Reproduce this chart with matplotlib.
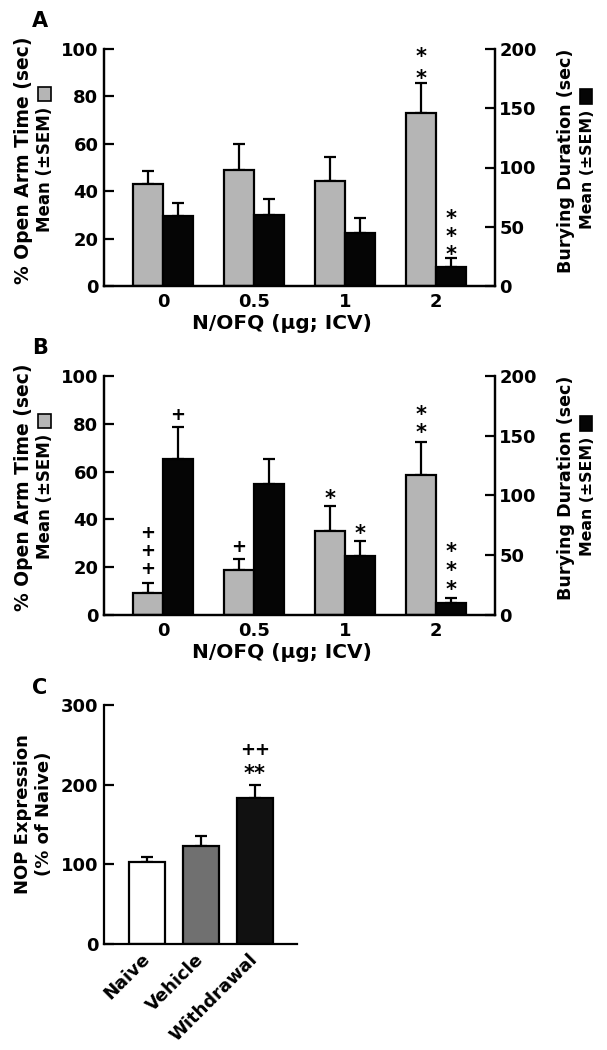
import matplotlib
matplotlib.use("Agg")
import matplotlib.pyplot as plt
from matplotlib.patches import Rectangle
import numpy as np

# ---------------- data ----------------
doses = ["0", "0.5", "1", "2"]

# Panel A
a_open_mean = [43, 49, 44.5, 73]
a_open_sem = [5.5, 11, 10, 12.5]
a_bury_mean = [59, 60, 45, 16]
a_bury_sem = [11, 13, 12, 7.5]
a_open_marks = ["", "", "", "**"]
a_bury_marks = ["", "", "", "***"]

# Panel B
b_open_mean = [9.2, 18.8, 35.2, 58.6]
b_open_sem = [4.2, 4.6, 10.4, 13.8]
b_bury_mean = [130.5, 109.6, 49.4, 10]
b_bury_sem = [26.5, 21, 12.6, 4.2]
b_open_marks = ["+++", "+", "*", "**"]
b_bury_marks = ["+", "", "*", "***"]

# Panel C
groups_c = ["Naive", "Vehicle", "Withdrawal"]
c_mean = [103, 123, 183]
c_sem = [6, 13, 17]

plt.rcParams['font.family'] = ['DejaVu Sans']
plt.rcParams['font.weight'] = 'bold'

W, H = 607, 1050
fig = plt.figure(figsize=(W / 100, H / 100), dpi=100)

def fx(px):
    return px / W

def fy(py):
    return 1 - py / H

GRAY = "#b5b5b5"
BLACK = "#050505"
LW = 1.6
TICKFS = 13
PT = 100 / 72.0  # px per point

def style_axis(ax):
    ax.tick_params(axis='y', direction='in', length=7, width=LW, labelsize=TICKFS, pad=4)
    ax.tick_params(axis='x', length=0, labelsize=TICKFS, pad=5)
    for lab in ax.get_yticklabels() + ax.get_xticklabels():
        lab.set_fontweight('bold')

def stack_marks(ax, x, ytop, marks, first_off_px, step_px):
    # one multi-line text; glyph centre of the lowest line sits first_off_px above ytop
    fs = 15 if marks[0] == '*' else 13
    em = fs * PT
    centre = 0.83 * em if marks[0] == '*' else 0.57 * em
    ls = step_px / (0.76 * em)
    ax.annotate("\n".join(marks), xy=(x, ytop), xytext=(0, (first_off_px - centre) / PT),
                textcoords='offset points', ha='center', va='bottom', fontsize=fs,
                fontweight='bold', linespacing=ls)

def panel_ab(top_px, bottom_px, open_mean, open_sem, bury_mean, bury_sem,
             open_marks, bury_marks, open_offs, bury_offs, letter):
    left, right = 104, 495
    ax = fig.add_axes([fx(left), fy(bottom_px), fx(right - left), (bottom_px - top_px) / H])
    ax2 = ax.twinx()
    x = np.arange(len(doses))
    w = 0.33
    ax.bar(x - w / 2, open_mean, w, color=GRAY, edgecolor='black', linewidth=LW, zorder=2)
    ax.errorbar(x - w / 2, open_mean, yerr=[np.zeros(len(x)), open_sem], fmt='none',
                ecolor='black', elinewidth=LW, capsize=4, capthick=LW, zorder=1)
    ax2.bar(x + w / 2, bury_mean, w, color=BLACK, edgecolor='black', linewidth=LW, zorder=2)
    ax2.errorbar(x + w / 2, bury_mean, yerr=[np.zeros(len(x)), bury_sem], fmt='none',
                 ecolor='black', elinewidth=LW, capsize=4, capthick=LW, zorder=1)
    ax.set_xlim(-0.65, 3.65)
    ax.set_ylim(0, 100)
    ax2.set_ylim(0, 200)
    ax.set_yticks([0, 20, 40, 60, 80, 100])
    ax2.set_yticks([0, 50, 100, 150, 200])
    ax.set_xticks(x)
    ax.set_xticklabels(doses)
    for a in (ax, ax2):
        a.spines['top'].set_visible(False)
        for s in a.spines.values():
            s.set_linewidth(LW)
    style_axis(ax)
    ax2.tick_params(axis='y', direction='in', length=7, width=LW, labelsize=TICKFS, pad=3)
    for lab in ax2.get_yticklabels():
        lab.set_fontweight('bold')
    # x-axis title (slightly left of centre, as in the reference)
    fig.text(fx(282), fy(bottom_px + 38), "N/OFQ (µg; ICV)", ha='center', va='center',
             fontsize=14.5, fontweight='bold')

    for i in range(len(x)):
        if open_marks[i]:
            stack_marks(ax, x[i] - w / 2, open_mean[i] + open_sem[i], open_marks[i], *open_offs[i])
        if bury_marks[i]:
            stack_marks(ax2, x[i] + w / 2, bury_mean[i] + bury_sem[i], bury_marks[i], *bury_offs[i])

    # Y labels (two lines with legend squares)
    dy = top_px - 49
    fig.text(fx(24), fy(160 + dy), "% Open Arm Time (sec)", rotation=90, ha='center', va='center',
             fontsize=13.5, fontweight='bold')
    fig.text(fx(45), fy(169 + dy), "Mean (±SEM)", rotation=90, ha='center', va='center',
             fontsize=12.0, fontweight='bold')
    fig.patches.append(Rectangle((fx(38), fy(101 + dy)), fx(13), 14 / H, transform=fig.transFigure,
                                 facecolor=GRAY, edgecolor='black', linewidth=1.2, figure=fig))
    fig.text(fx(566), fy(161 + dy), "Burying Duration (sec)", rotation=90, ha='center', va='center',
             fontsize=12.6, fontweight='bold')
    fig.text(fx(588), fy(169 + dy), "Mean (±SEM)", rotation=90, ha='center', va='center',
             fontsize=11.3, fontweight='bold')
    fig.patches.append(Rectangle((fx(580), fy(104 + dy)), fx(12), 15 / H, transform=fig.transFigure,
                                 facecolor=BLACK, edgecolor='black', linewidth=1.2, figure=fig))
    fig.text(fx(40), fy(top_px - 28), letter, ha='center', va='center', fontsize=15, fontweight='bold')
    return ax, ax2

panel_ab(49, 286, a_open_mean, a_open_sem, a_bury_mean, a_bury_sem,
         a_open_marks, a_bury_marks,
         [None, None, None, (12, 17)], [None, None, None, (10, 14)], "A")
panel_ab(376, 615, b_open_mean, b_open_sem, b_bury_mean, b_bury_sem,
         b_open_marks, b_bury_marks,
         [(15, 14), (13, 14), (14, 14), (16, 14)], [(14, 14), None, (14, 14), (15, 15)], "B")

# Panel C
axc = fig.add_axes([fx(104), fy(944), fx(297 - 104), (944 - 705) / H])
xc = np.arange(len(groups_c))
wc = 0.68
axc.bar(xc, c_mean, wc, color=["white", "#707070", "#111111"], edgecolor='black', linewidth=LW, zorder=2)
axc.errorbar(xc, c_mean, yerr=[np.zeros(len(xc)), c_sem], fmt='none', ecolor='black',
             elinewidth=LW, capsize=4, capthick=LW, zorder=1)
axc.set_xlim(-0.8, 2.78)
axc.set_ylim(0, 300)
axc.set_yticks([0, 100, 200, 300])
axc.set_xticks(xc)
axc.set_xticklabels(groups_c, rotation=45, ha='right', va='center', rotation_mode='anchor')
axc.spines['top'].set_visible(False)
axc.spines['right'].set_visible(False)
for s in axc.spines.values():
    s.set_linewidth(LW)
style_axis(axc)
axc.tick_params(axis='x', pad=9)
fig.text(fx(23), fy(814), "NOP Expression", rotation=90, ha='center', va='center',
         fontsize=13, fontweight='bold')
fig.text(fx(44), fy(814), "(% of Naive)", rotation=90, ha='center', va='center',
         fontsize=13, fontweight='bold')
ytop_c = c_mean[2] + c_sem[2]
axc.annotate("**", xy=(2, ytop_c), xytext=(0, (18 - 0.83 * 15 * PT) / PT),
             textcoords='offset points', ha='center', va='bottom', fontsize=15, fontweight='bold')
axc.annotate("++", xy=(2, ytop_c), xytext=(0, (36 - 0.57 * 13 * PT) / PT),
             textcoords='offset points', ha='center', va='bottom', fontsize=13, fontweight='bold')
fig.text(fx(40), fy(688), "C", ha='center', va='center', fontsize=15, fontweight='bold')

fig.savefig("out.png", dpi=100)
